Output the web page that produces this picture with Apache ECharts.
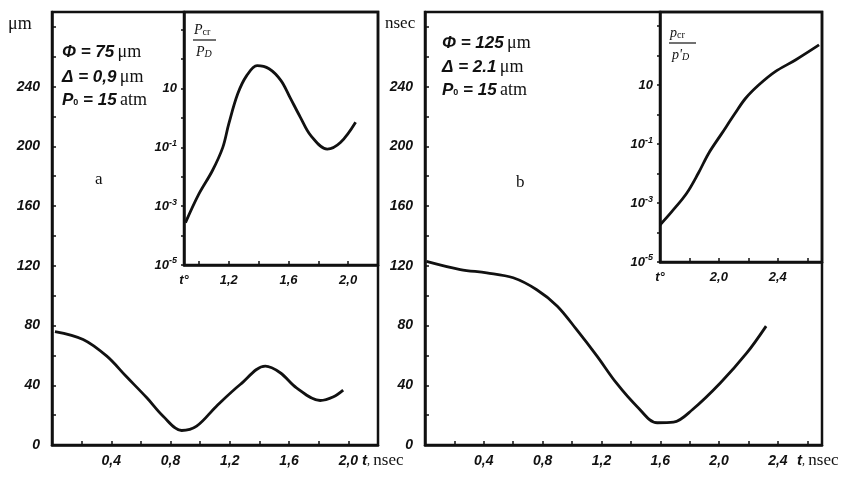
<!DOCTYPE html>
<html>
<head>
<meta charset="utf-8">
<script src="https://cdn.jsdelivr.net/npm/echarts@6/dist/echarts.min.js"></script>
<style>
  html, body { margin: 0; background: #fff; }
  #chart { width: 855px; height: 477px; }
</style>
</head>
<body>
<div id="chart"></div>
<script>
// panel a, main curve: t (nsec) -> size (μm)
const tA = [0.02, 0.21, 0.37, 0.5, 0.64, 0.75, 0.875, 0.976, 1.11, 1.27, 1.44, 1.54, 1.65, 1.81, 1.9, 1.965];
const dA = [76, 70.7, 59.5, 46, 31.6, 19.3, 9.7, 12.6, 26, 40.5, 52.8, 48.4, 38.3, 29.8, 32.3, 36.7];
// panel a, inset: Pcr/PD (log scale)
const tIa = [0.91, 1.0, 1.09, 1.16, 1.2, 1.26, 1.32, 1.39, 1.47, 1.55, 1.61, 1.68, 1.75, 1.86, 1.95, 2.05];
const pIa = [2.75e-4, 2.6e-3, 0.016, 0.1, 0.63, 6.6, 27.5, 60, 47, 18.6, 5.0, 1.05, 0.25, 0.087, 0.148, 0.71];

// panel b, main curve
const tB = [0.01, 0.24, 0.42, 0.6, 0.76, 0.9, 1.03, 1.17, 1.3, 1.44, 1.58, 1.69, 1.82, 2.01, 2.19, 2.32];
const dB = [123, 117.5, 115.3, 112, 104, 93, 77.4, 59.5, 41.7, 26, 14.9, 15.3, 23.8, 41.7, 61.8, 79.6];
// panel b, inset
const tIb = [1.6, 1.68, 1.78, 1.86, 1.93, 2.02, 2.11, 2.18, 2.27, 2.38, 2.52, 2.68];
const pIb = [1.8e-4, 5.1e-4, 2.1e-3, 0.0102, 0.048, 0.23, 1.1, 3.5, 10, 28, 71, 230];

const ink = '#111';
const serif = '"Liberation Serif", "DejaVu Serif", serif';
const hand = '"Liberation Sans", "DejaVu Sans", sans-serif';

const handLabel = { color: ink, fontFamily: hand, fontWeight: 'bold', fontStyle: 'italic', fontSize: 14 };

const pairs = (xs, ys) => xs.map((x, i) => [x, ys[i]]);
const comma = k => (k / 10).toFixed(1).replace('.', ',');

function mainX(grid, max) {
  return {
    gridIndex: grid, type: 'value', min: 0, max: max, interval: 0.2,
    axisLine: { lineStyle: { color: ink, width: 2.5 } },
    axisTick: { inside: true, length: 4, lineStyle: { color: ink, width: 1.5 } },
    splitLine: { show: false },
    axisLabel: Object.assign({}, handLabel, {
      margin: 9,
      formatter: v => { const k = Math.round(v * 10); return (k > 0 && k % 4 === 0) ? comma(k) : ''; }
    })
  };
}
function mainY(grid) {
  return {
    gridIndex: grid, type: 'value', min: 0, max: 290, interval: 20,
    axisLine: { show: true, lineStyle: { color: ink, width: 2.5 } },
    axisTick: { inside: true, length: 4, lineStyle: { color: ink, width: 1.5 } },
    splitLine: { show: false },
    axisLabel: Object.assign({}, handLabel, {
      margin: 12,
      formatter: v => (v % 40 === 0 && v <= 240) ? String(v) : ''
    })
  };
}
function insetY(grid, max) {
  return {
    gridIndex: grid, type: 'log', logBase: 10, min: 1e-5, max: max,
    axisLine: { show: true, lineStyle: { color: ink, width: 2.5 } },
    axisTick: { length: 3, lineStyle: { color: ink, width: 1.5 } },
    splitLine: { show: false },
    axisLabel: {
      margin: 7,
      formatter: v => {
        const e = Math.round(Math.log10(v));
        if (Math.abs(Math.log10(v) - e) > 0.01) return '';
        if (e === 1) return '{b|10}';
        if (e === -1 || e === -3 || e === -5) return '{b|10}{s|' + e + '}';
        return '';
      },
      rich: {
        b: { color: ink, fontFamily: hand, fontWeight: 'bold', fontStyle: 'italic', fontSize: 13 },
        s: { color: ink, fontFamily: hand, fontWeight: 'bold', fontStyle: 'italic', fontSize: 9, padding: [0, 0, 8, 0] }
      }
    }
  };
}
function insetX(grid, min, max, opts) {
  return Object.assign({
    gridIndex: grid, type: 'value', min: min, max: max,
    axisLine: { lineStyle: { color: ink, width: 2.5 } },
    axisTick: { inside: true, length: 4, lineStyle: { color: ink, width: 1.5 } },
    splitLine: { show: false },
    axisLabel: Object.assign({}, handLabel, {
      fontSize: 13, margin: 9,
      formatter: v => {
        const k = Math.round(v * 10);
        if (Math.abs(v - min) < 1e-6) return 't°';
        return (k % 4 === 0 && k < max * 10) ? comma(k) : '';
      }
    })
  }, opts);
}

const curve = (x, y, data) => ({
  type: 'line', xAxisIndex: x, yAxisIndex: y, data: data,
  smooth: 0.35, showSymbol: false, animation: false,
  lineStyle: { color: ink, width: 2.8 }
});

const paramRich = {
  h: { fill: ink, fontFamily: hand, fontWeight: 'bold', fontStyle: 'italic', fontSize: 17 },
  sub: { fill: ink, fontFamily: hand, fontWeight: 'bold', fontSize: 9, padding: [6, 0, 0, 0] },
  u: { fill: ink, fontFamily: serif, fontSize: 18 }
};
const param = (x, y, text) => ({
  type: 'text', x: x, y: y,
  style: { text: text, rich: paramRich, verticalAlign: 'middle', fill: ink }
});
const serifText = (x, y, text, size) => ({
  type: 'text', x: x, y: y,
  style: { text: text, fill: ink, font: size + 'px ' + serif, verticalAlign: 'middle' }
});
const fracRich = {
  p: { fill: ink, fontFamily: serif, fontStyle: 'italic', fontSize: 14 },
  s: { fill: ink, fontFamily: serif, fontSize: 10, padding: [5, 0, 0, 0] },
  si: { fill: ink, fontFamily: serif, fontStyle: 'italic', fontSize: 10, padding: [5, 0, 0, 0] }
};
const frac = (x, y, top, bottom, w) => [
  { type: 'text', x: x, y: y, style: { text: top, rich: fracRich, verticalAlign: 'middle' } },
  { type: 'line', shape: { x1: x - 1, y1: y + 10, x2: x + w, y2: y + 10 }, style: { stroke: ink, lineWidth: 1.2 } },
  { type: 'text', x: x + 2, y: y + 22, style: { text: bottom, rich: fracRich, verticalAlign: 'middle' } }
];
const tLabel = (x) => ({
  type: 'text', x: x, y: 461,
  style: {
    text: '{t|t}{c|,} {u|nsec}', verticalAlign: 'middle',
    rich: {
      t: { fill: ink, fontFamily: hand, fontWeight: 'bold', fontStyle: 'italic', fontSize: 15 },
      c: { fill: ink, fontFamily: serif, fontSize: 12 },
      u: { fill: ink, fontFamily: serif, fontSize: 17 }
    }
  }
});

const chart = echarts.init(document.getElementById('chart'));
chart.setOption({
  animation: false,
  backgroundColor: '#fff',
  grid: [
    { left: 52, top: 12, width: 326, height: 433, show: true, borderColor: ink, borderWidth: 2.5 },
    { left: 184, top: 12, width: 194, height: 253, show: true, borderColor: ink, borderWidth: 2.5 },
    { left: 425, top: 12, width: 397, height: 433, show: true, borderColor: ink, borderWidth: 2.5 },
    { left: 660, top: 12, width: 162, height: 250, show: true, borderColor: ink, borderWidth: 2.5 }
  ],
  xAxis: [
    mainX(0, 2.2),
    insetX(1, 0.9, 2.2, { splitNumber: 6 }),
    mainX(2, 2.7),
    insetX(3, 1.6, 2.7, { interval: 0.2 })
  ],
  yAxis: [
    mainY(0),
    insetY(1, 4000),
    mainY(2),
    insetY(3, 3000)
  ],
  series: [
    curve(0, 0, pairs(tA, dA)),
    curve(1, 1, pairs(tIa, pIa)),
    curve(2, 2, pairs(tB, dB)),
    curve(3, 3, pairs(tIb, pIb))
  ],
  graphic: [
    serifText(8, 24, 'μm', 18),
    serifText(385, 24, 'nsec', 17),
    param(62, 52, '{h|Φ = 75} {u|μm}'),
    param(62, 77, '{h|Δ = 0,9} {u|μm}'),
    param(62, 100, '{h|P}{sub|0}{h| = 15} {u|atm}'),
    serifText(95, 180, 'a', 17),
    param(442, 43, '{h|Φ = 125} {u|μm}'),
    param(442, 67, '{h|Δ = 2.1} {u|μm}'),
    param(442, 90, '{h|P}{sub|0}{h| = 15} {u|atm}'),
    serifText(516, 183, 'b', 17),
    ...frac(194, 30, '{p|P}{s|cr}', '{p|P}{si|D}', 22),
    ...frac(670, 33, '{p|p}{s|cr}', "{p|p'}{si|D}", 26),
    tLabel(362),
    tLabel(797)
  ]
});
</script>
</body>
</html>
